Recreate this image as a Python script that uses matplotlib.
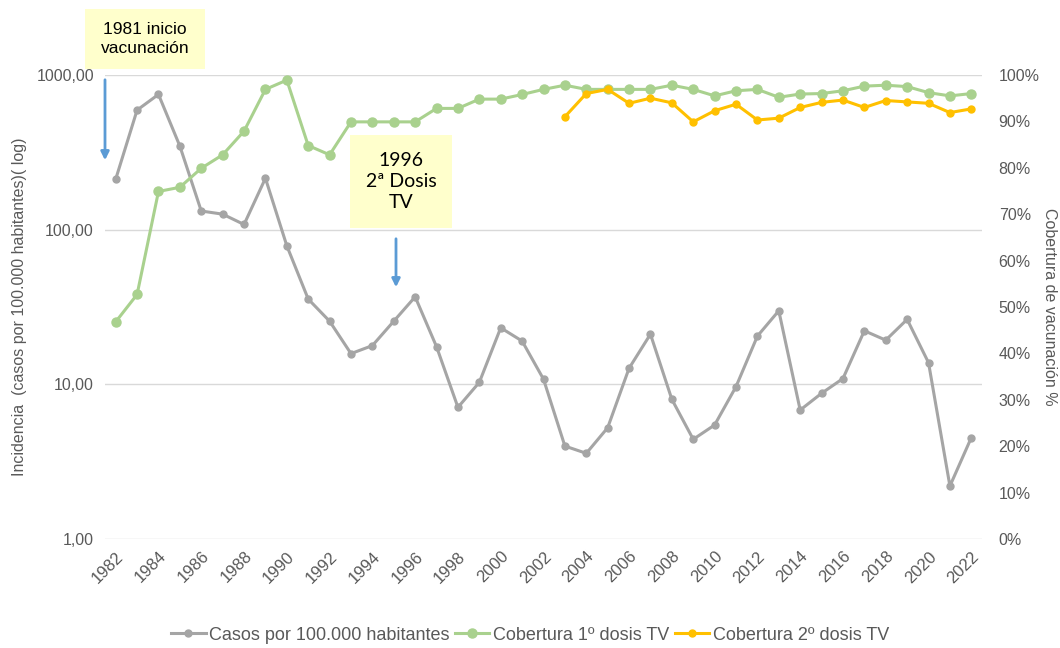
import matplotlib.pyplot as plt
import numpy as np
from matplotlib.patches import Rectangle
from matplotlib.ticker import FixedLocator, FuncFormatter, NullLocator

plt.rcParams['font.family'] = ['Liberation Sans', 'DejaVu Sans']

# Años y series
years = list(range(1982, 2023))

casos = [212, 593, 749, 347, 132, 126, 108, 215, 78.7, 35.6,
         25.6, 15.8, 17.8, 25.6, 36.8, 17.5, 7.1, 10.3, 23.2, 19.05,
         10.8, 3.99, 3.58, 5.24, 12.7, 21.1, 8.0, 4.41, 5.46, 9.66,
         20.5, 29.9, 6.82, 8.75, 10.9, 22.2, 19.3, 26.3, 13.8, 2.20,
         4.52]

dosis1 = [46.8, 52.7, 74.9, 75.8, 79.9, 82.8, 87.9, 96.9, 98.9, 84.8,
          82.8, 89.9, 89.9, 89.9, 89.9, 92.8, 92.8, 94.8, 94.8, 95.8,
          96.9, 97.8, 96.9, 96.9, 96.9, 96.9, 97.8, 96.9, 95.5, 96.6,
          96.9, 95.2, 95.9, 96.0, 96.6, 97.6, 97.8, 97.5, 96.2, 95.5,
          96.0]

years2 = list(range(2003, 2023))
dosis2 = [91.0, 96.0, 96.9, 93.9, 95.0, 94.0, 89.9, 92.3, 93.7, 90.3,
          90.7, 93.0, 94.1, 94.6, 93.0, 94.5, 94.2, 93.9, 91.9, 92.7]

left_ticks = [1, 10, 100, 1000]
left_labels = ['1,00', '10,00', '100,00', '1000,00']

GRAY = '#A5A5A5'
GREEN = '#A9D18E'
YELLOW = '#FFC000'
BLUE = '#5B9BD5'
TXT = '#595959'

fig = plt.figure(figsize=(10.6, 6.48), dpi=100)
ax = fig.add_axes([105 / 1060, 1 - 539 / 648, 877 / 1060, 464 / 648])
ax2 = ax.twinx()

ax.plot(years, casos, color=GRAY, lw=2.2, marker='o', ms=5,
        label='Casos por 100.000 habitantes', zorder=3)
ax2.plot(years, np.array(dosis1) / 100, color=GREEN, lw=2.2, marker='o', ms=6.5,
         label='Cobertura 1º dosis TV', zorder=3)
ax2.plot(years2, np.array(dosis2) / 100, color=YELLOW, lw=2.2, marker='o', ms=5,
         label='Cobertura 2º dosis TV', zorder=4)

ax.set_yscale('log')
ax.set_ylim(1, 1000)
ax.yaxis.set_major_locator(FixedLocator(left_ticks))
ax.yaxis.set_minor_locator(NullLocator())
ax.set_yticklabels(left_labels)
ax.set_xlim(1981.5, 2022.5)
ax.set_xticks(years[::2])
ax.set_xticklabels([str(y) for y in years[::2]], rotation=45, ha='right',
                   rotation_mode='anchor')
ax.grid(axis='y', color='#D9D9D9', lw=1)
ax.set_axisbelow(True)

ax2.set_ylim(0, 1)
ax2.set_yticks(np.linspace(0, 1, 11))
ax2.yaxis.set_major_formatter(FuncFormatter(lambda v, p: f'{v * 100:.0f}%'))

for a in (ax, ax2):
    for s in a.spines.values():
        s.set_visible(False)
    a.tick_params(length=0, labelsize=11.5, colors=TXT)
ax.tick_params(axis='x', labelsize=12, pad=7)
ax.tick_params(axis='y', pad=8)
ax2.tick_params(axis='y', pad=12)

ax.set_ylabel('Incidencia  (casos por 100.000 habitantes)( log)', fontsize=11.5,
              color=TXT, va='center')
ax.yaxis.set_label_coords(-0.097, 0.5)
ax2.set_ylabel('Cobertura de vacunación %', fontsize=11.5, color=TXT,
               rotation=-90, va='center')
ax2.yaxis.set_label_coords(1.077, 0.5)

# Leyenda inferior
h1, l1 = ax.get_legend_handles_labels()
h2, l2 = ax2.get_legend_handles_labels()
fig.legend(h1 + h2, l1 + l2, loc='center', bbox_to_anchor=(0.5, 1 - 635 / 648),
           ncol=3, frameon=False, fontsize=13, handlelength=1.9,
           handletextpad=0.2, columnspacing=0.3, labelcolor=TXT)

# Notas con flechas
def note(x0, y0, x1, y1, text, **kw):
    fig.patches.append(Rectangle((x0 / 1060, 1 - y1 / 648), (x1 - x0) / 1060,
                                 (y1 - y0) / 648, transform=fig.transFigure,
                                 facecolor='#FFFFCC', edgecolor='none', zorder=5))
    fig.text((x0 + x1) / 2 / 1060, 1 - (y0 + y1) / 2 / 648, text, ha='center',
             va='center', color='black', zorder=6, **kw)

def arrow(x, y0, y1):
    fig.add_artist(plt.Annotation('', xy=(x / 1060, 1 - y1 / 648),
                                  xytext=(x / 1060, 1 - y0 / 648),
                                  xycoords='figure fraction',
                                  arrowprops=dict(arrowstyle='-|>', color=BLUE,
                                                  lw=2, mutation_scale=12)))

note(85, 9, 205, 69, '1981 inicio\nvacunación', fontsize=12.5, linespacing=1.3)
arrow(105, 77, 163)
note(350, 135, 452, 228, '1996\n2ª Dosis\nTV', fontsize=14,
     family=['Lato', 'DejaVu Sans'], linespacing=1.25)
arrow(396, 236, 290)

fig.savefig('out.png', dpi=100)
